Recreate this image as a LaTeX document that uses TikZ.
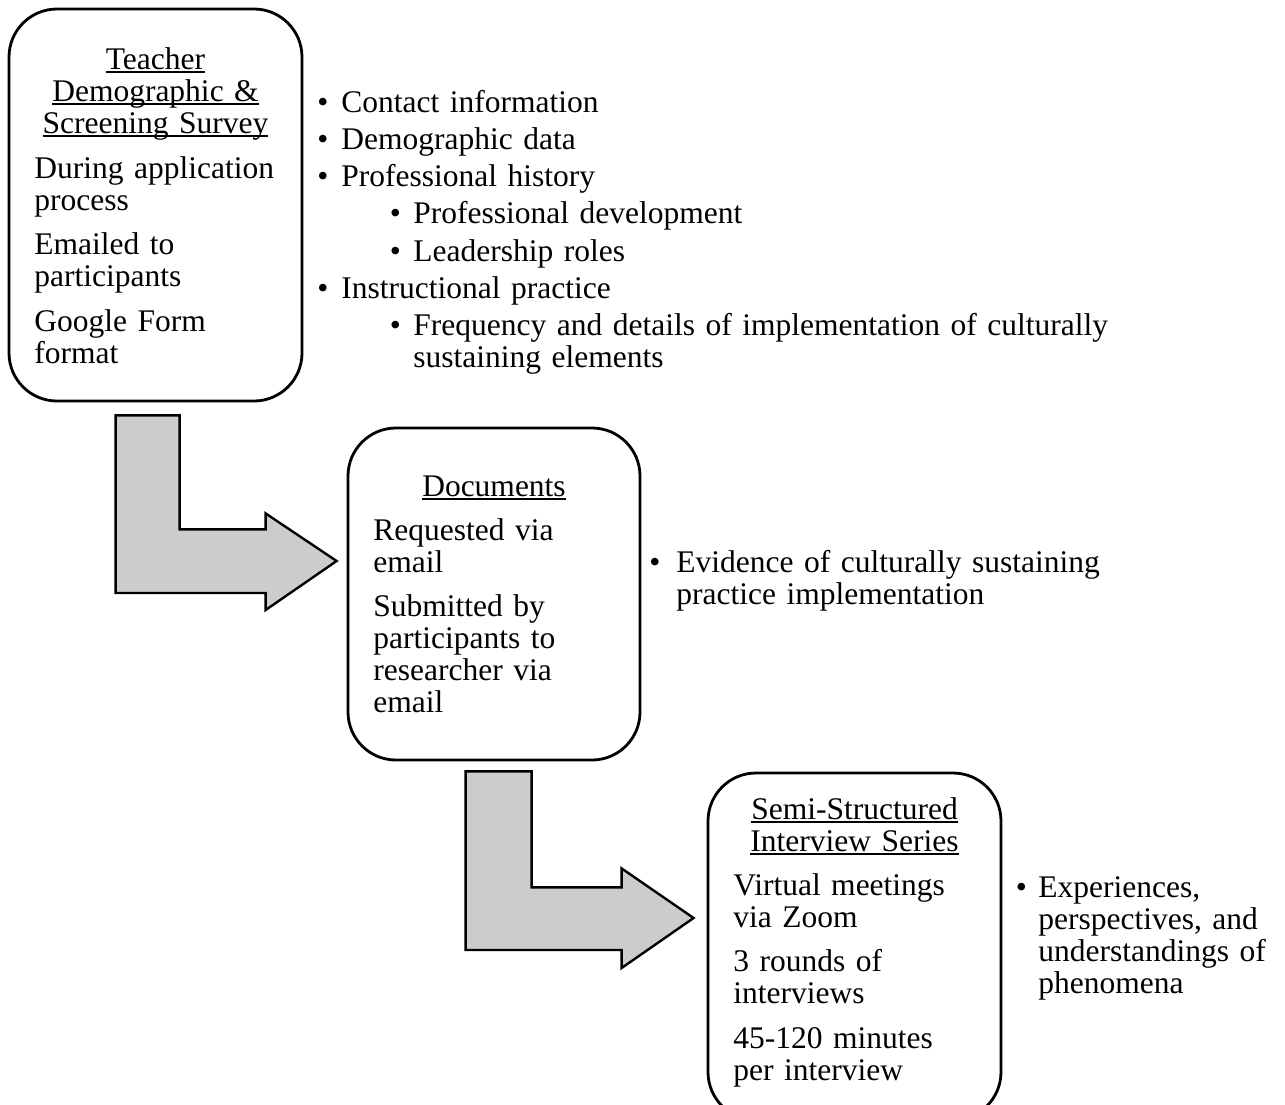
\documentclass[tikz,border=0pt]{standalone}
\usepackage{fontspec}
\setmainfont{Liberation Serif}
\usetikzlibrary{calc}

\definecolor{arrowfill}{RGB}{204,204,204}

% underlined heading line
\newcommand\ulc[1]{\leavevmode\setbox0\hbox{#1}\rlap{\rule[-1.9pt]{\wd0}{0.75pt}}\box0}
% first-level bullet item (#1 = bullet column width)
\newcommand\bul[2]{\noindent\hangindent=#1\hangafter=1\makebox[#1][l]{\textbullet}#2\par}
% second-level bullet item
\newcommand\subbul[1]{\noindent\hangindent=48pt\hangafter=1\hspace*{36.25pt}\makebox[11.75pt][l]{\textbullet}#1\par}

\tikzset{
  stage/.style={draw, line width=1.4pt, rounded corners=24pt, inner sep=0pt, fill=white},
  flow/.style={draw, fill=arrowfill, line width=1.2pt, line join=miter},
  heading/.style={inner sep=0pt, anchor=base, text width=150pt, align=center,
    font=\fontsize{15.75pt}{16pt}\selectfont},
  body/.style={inner sep=0pt, anchor=base west, text width=150pt,
    font=\fontsize{15.75pt}{16pt}\selectfont},
  notes/.style={inner sep=0pt, anchor=base west, text width=#1,
    font=\fontsize{15.75pt}{16pt}\selectfont},
}

\begin{document}
\begin{tikzpicture}[x=0.5pt, y=-0.5pt]
  \useasboundingbox (0,0) rectangle (1285,1104);
  \clip (0,0) rectangle (1285,1104);

  % stage boxes
  \node[stage, minimum width=146.5pt, minimum height=196pt] (b1) at (155.5,205) {};
  \node[stage, minimum width=146pt, minimum height=166pt] (b2) at (494,594) {};
  \node[stage, minimum width=146.5pt, minimum height=173.5pt] (b3) at (854.5,946.5) {};

  % bent arrows between stages
  \draw[flow] ($(b1.south west)+(108,13)$) -- ++(64,0) -- ++(0,114) -- ++(86,0)
    -- ++(0,-16) -- ($(b2.west)+(-10,-33)$) -- ++(-71,49) -- ++(0,-17)
    -- ++(-150,0) -- cycle;
  \draw[flow] ($(b2.south west)+(119,10)$) -- ++(66,0) -- ++(0,116) -- ++(90,0)
    -- ++(0,-19) -- ($(b3.west)+(-13,-28.5)$) -- ++(-72,50) -- ++(0,-18)
    -- ++(-156,0) -- cycle;

  % stage 1
  \node[heading] (t1) at (155.5,69)
    {\ulc{Teacher}\\\ulc{Demographic \&}\\\ulc{Screening Survey}};
  \node[body] (d1) at (34,178)
    {During application\\process\\[6.25pt]Emailed to\\participants\\[6.25pt]Google Form\\format};
  \node[notes=420pt] (n1) at (317,112) {\setlength\parskip{2.65pt}%
    \bul{12pt}{Contact information}
    \bul{12pt}{Demographic data}
    \bul{12pt}{Professional history}
    \subbul{Professional development}
    \subbul{Leadership roles}
    \bul{12pt}{Instructional practice}
    \subbul{Frequency and details of implementation of culturally\newline sustaining elements}};

  % stage 2
  \node[heading] (t2) at (494,496) {\ulc{Documents}};
  \node[body] (d2) at (373,540)
    {Requested via\\email\\[6.25pt]Submitted by\\participants to\\researcher via\\email};
  \node[notes=260pt] (n2) at (649,572)
    {\bul{13.5pt}{Evidence of culturally sustaining\newline practice implementation}};

  % stage 3
  \node[heading] (t3) at (854.5,819) {\ulc{Semi-Structured}\\\ulc{Interview Series}};
  \node[body] (d3) at (733,895)
    {Virtual meetings\\via Zoom\\[6.25pt]3 rounds of\\interviews\\[6.25pt]45-120 minutes\\per interview};
  \node[notes=130pt] (n3) at (1015.5,897)
    {\bul{11.25pt}{Experiences,\newline perspectives, and\newline understandings of\newline phenomena}};
\end{tikzpicture}
\end{document}
